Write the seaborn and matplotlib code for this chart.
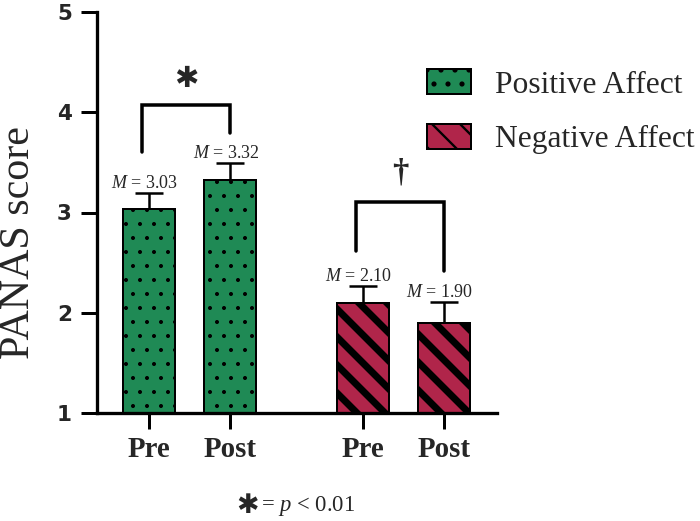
import seaborn as sns
import matplotlib.pyplot as plt
import pandas as pd
from matplotlib.patches import Patch

# values
affect = ["Positive Affect", "Positive Affect", "Negative Affect", "Negative Affect"]
time = ["Pre", "Post", "Pre", "Post"]
means = [3.03, 3.32, 2.10, 1.90]
sem = [0.16, 0.17, 0.17, 0.21]
labels = ["$M$ = 3.03", "$M$ = 3.32", "$M$ = 2.10", "$M$ = 1.90"]
yticks = [1, 2, 3, 4, 5]
affect_order = ["Positive Affect", "Negative Affect"]
colors = {"Positive Affect": "#1F8A55", "Negative Affect": "#B0254A"}
hatches = {"Positive Affect": "..", "Negative Affect": "\\\\"}
hatch_lw = {"Positive Affect": 0.5, "Negative Affect": 3.0}

df = pd.DataFrame({"affect": affect, "time": time, "score": means})

DPI = 168
PT = 72 / DPI  # points per pixel

sns.set_style("white")
plt.rcParams["font.family"] = ["Liberation Serif", "DejaVu Sans"]
plt.rcParams["mathtext.fontset"] = "custom"
plt.rcParams["mathtext.rm"] = "Liberation Serif"
plt.rcParams["mathtext.it"] = "Liberation Serif:italic"

fig = plt.figure(figsize=(700 / DPI, 521 / DPI), dpi=DPI)
ax = fig.add_axes([97 / 700, 108 / 521, 400 / 700, 401 / 521])

sns.barplot(data=df, x="affect", y="score", hue="time", order=affect_order,
            hue_order=["Pre", "Post"], width=0.757, gap=0.36, dodge=True,
            errorbar=None, legend=False, ax=ax)

bars = sorted([p for p in ax.patches if p.get_height() > 0], key=lambda p: p.get_x())
centers = []
for p, a in zip(bars, affect):
    p.set_facecolor(colors[a])
    p.set_edgecolor("black")
    p.set_linewidth(2 * PT)
    p.set_hatch(hatches[a])
    if hasattr(p, "set_hatch_linewidth"):
        p.set_hatch_linewidth(hatch_lw[a])
    p.set_zorder(2)
    centers.append(p.get_x() + p.get_width() / 2)

ax.errorbar(centers, means, yerr=sem, fmt="none", ecolor="black",
            elinewidth=2.5 * PT, capsize=14 * PT, capthick=2.5 * PT, zorder=1)

for cx, m, e, lab in zip(centers, means, sem, labels):
    ax.annotate(lab, (cx, m + e), xytext=(-4 * PT, 5 * PT), textcoords="offset points",
                ha="center", va="baseline", fontsize=7.7)

# significance brackets
off = 7 / 214
for (i, j), top, legs, mark, msize, mfam, mgap in [
        ((0, 1), 4.07, (3.60, 3.79), "\u2731", 12.5, "DejaVu Sans", 12),
        ((2, 3), 3.10, (2.62, 2.42), "\u2020", 14, "Liberation Serif", 14)]:
    x0, x1 = centers[i] - off, centers[j]
    ax.plot([x0, x0, x1, x1], [legs[0], top, top, legs[1]], color="black",
            lw=3.5 * PT, solid_joinstyle="miter", clip_on=False)
    ax.annotate(mark, ((x0 + x1) / 2, top), xytext=(0, mgap * PT), textcoords="offset points",
                ha="center", va="bottom", fontsize=msize, family=mfam, fontweight="bold")

ax.set_xlim(-0.432, 1.437)
ax.set_ylim(1, 5)
ax.tick_params(axis="both", direction="out", length=16 * PT, width=3 * PT, color="black",
               left=True, bottom=True)
ax.tick_params(axis="x", pad=7 * PT)
ax.tick_params(axis="y", pad=9 * PT)
ax.set_xticks(centers, labels=time, fontsize=12.4, fontweight="bold")
ax.set_yticks(yticks, labels=[str(v) for v in yticks], fontsize=9.2, fontweight="bold",
              family="DejaVu Sans")
sns.despine(ax=ax)
for s in ["left", "bottom"]:
    ax.spines[s].set_linewidth(3.3 * PT)
    ax.spines[s].set_color("black")
ax.set_xlabel("")
ax.set_ylabel("PANAS score", fontsize=18, va="center")
ax.yaxis.set_label_coords(-(97 - 19) / 400, 0.426)

handles = [Patch(facecolor=colors[a], edgecolor="black", hatch=hatches[a], linewidth=2 * PT)
           for a in affect_order]
for h, a in zip(handles, affect_order):
    if hasattr(h, "set_hatch_linewidth"):
        h.set_hatch_linewidth(hatch_lw[a])
ax.legend(handles, affect_order, loc="upper left", bbox_to_anchor=(427 / 700, 1 - 69 / 521),
          bbox_transform=fig.transFigure, frameon=False, borderaxespad=0, borderpad=0,
          fontsize=13.5, handlelength=1.4, handleheight=0.86, handletextpad=0.76,
          labelspacing=0.76)

fig.text(248 / 700, 1 - 506 / 521, "\u2731", ha="center", va="center",
         fontsize=11.5, family="DejaVu Sans")
fig.text(261 / 700, 1 - 506 / 521, "= $p$ < 0.01", ha="left", va="center", fontsize=9.7)

fig.savefig("out.png", dpi=DPI)
